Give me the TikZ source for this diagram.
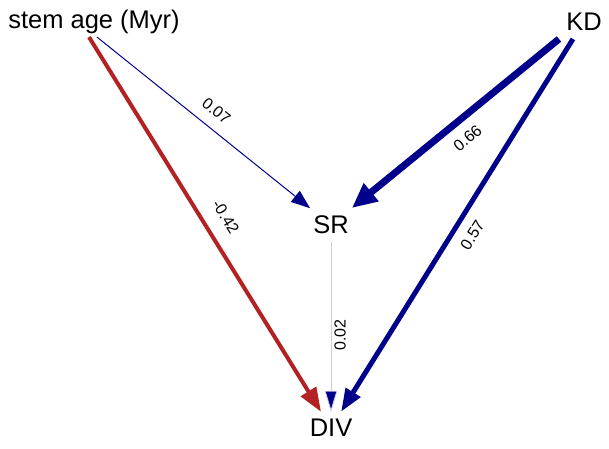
\documentclass[tikz,border=0pt]{standalone}
\usepackage{fontspec}
\setmainfont{Liberation Sans}
\usetikzlibrary{arrows.meta,positioning}
\definecolor{negcol}{RGB}{178,34,34}
\definecolor{poscol}{RGB}{0,0,139}
\tikzset{
  var/.style  ={font=\fontsize{25.5}{30}\selectfont, inner sep=3pt},
  lbl/.style  ={font=\fontsize{16}{18}\selectfont, inner sep=3pt},
  negarr/.style 2 args={draw=negcol, -{Triangle[length=#1, width=#2, fill=negcol]}},
  posarr/.style 2 args={draw=poscol, -{Triangle[length=#1, width=#2, fill=poscol]}},
}

\begin{document}
\begin{tikzpicture}[x=1pt, y=-1pt]
  \useasboundingbox (0,0) rectangle (609,448);
  \node[var] (stem) at (94,22) {stem age (Myr)};
  \node[var] (kd) at (584,22) {KD};
  \node[var, minimum width=38pt, minimum height=34pt] (sr) at (331,225) {SR};
  \node[var, minimum height=32pt] (div) at (331,428) {DIV};

  \draw[negarr={24pt}{17.5pt}, line width=4pt] ([xshift=-5pt]stem.south) -- node[lbl, sloped, above=11pt, pos=0.51]{-0.42} (div);
  \draw[posarr={19pt}{14pt}, line width=1pt] ([xshift=3pt]stem.south) -- node[lbl, sloped, above=8pt, pos=0.51]{0.07} (sr);
  \draw[posarr={25pt}{22pt}, line width=7pt] ([xshift=-25pt, yshift=-5pt]kd.south) -- node[lbl, sloped, below=7pt, pos=0.5]{0.66} (sr);
  \draw[posarr={23pt}{16.5pt}, line width=5pt] ([xshift=-11pt, yshift=-5pt]kd.south) -- node[lbl, sloped, below=7pt, pos=0.5]{0.57} (div);
  \draw[posarr={21pt}{12.5pt}, draw=poscol!20, line width=0.8pt] (sr) -- node[lbl, below=8pt, rotate=90]{0.02} (div);
\end{tikzpicture}
\end{document}
